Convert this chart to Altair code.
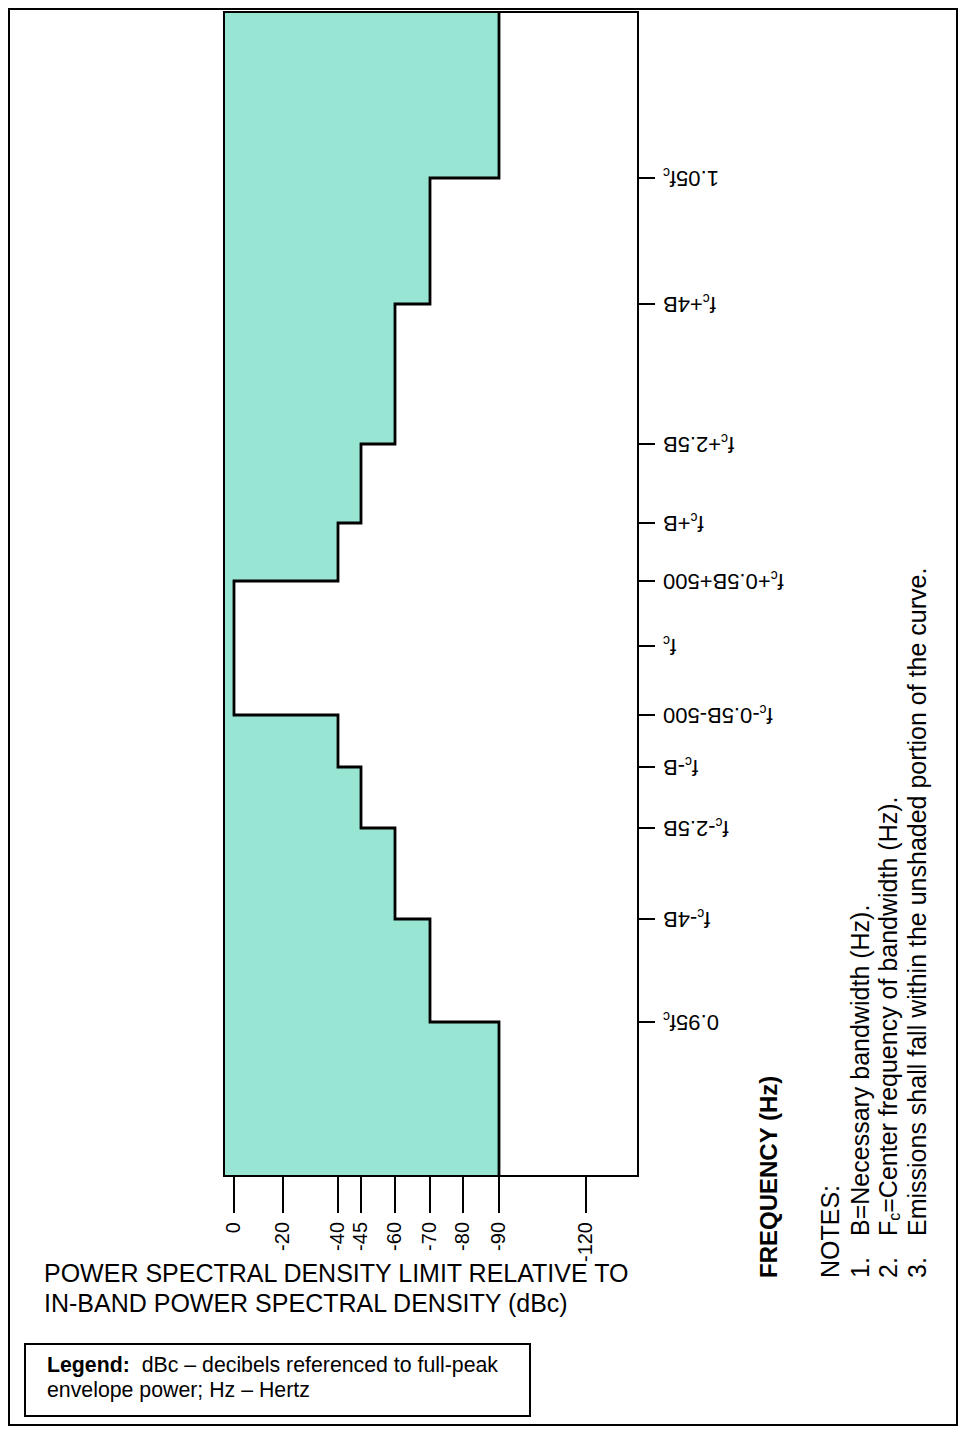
import altair as alt
import pandas as pd

# ---------------- data ----------------
dbc_ticks = [0, -20, -40, -45, -60, -70, -80, -90, -120]
dbc_tick_labels = ["0", "-20", "-40", "-45", "-60", "-70", "-80", "-90", "-120"]
freq_labels = ["1.05f_c", "f_c+4B", "f_c+2.5B", "f_c+B", "f_c+0.5B+500", "f_c",
               "f_c-0.5B-500", "f_c-B", "f_c-2.5B", "f_c-4B", "0.95f_c"]
freq_index = [5, 4, 3, 2, 1, 0, -1, -2, -3, -4, -5]
# mask segments: from / to position on the frequency axis, limit in dBc
seg_from = [6, 5, 4, 3, 2, 1, -1, -2, -3, -4, -5]
seg_to = [5, 4, 3, 2, 1, -1, -2, -3, -4, -5, -6]
seg_dbc = [-90, -70, -60, -45, -40, 0, -40, -45, -60, -70, -90]

x_title_lines = ["POWER SPECTRAL DENSITY LIMIT RELATIVE TO",
                 "IN-BAND POWER SPECTRAL DENSITY (dBc)"]
y_title = "FREQUENCY (Hz)"
notes_head = "NOTES:"
note_nums = ["1.", "2.", "3."]
note1 = "B=Necessary bandwidth (Hz)."
note2_parts = ["F", "c", "=Center frequency of bandwidth (Hz)."]
note3 = "Emissions shall fall within the unshaded portion of the curve."
legend_bold = "Legend:"
legend_line1 = "dBc \u2013 decibels referenced to full-peak"
legend_line2 = "envelope power; Hz \u2013 Hertz"

# ---------------- layout / style ----------------
W, H = 414, 1164
dbc_px = [10, 59, 114, 137, 171, 206, 239, 275, 362]
freq_domain = [6] + freq_index + [-6]
freq_px = [0, 166, 292, 432, 511, 569, 634, 703, 755, 816, 907, 1010, 1164]
FONT = "Liberation Sans"
FILL = "#98e5d4"

# Arial / Liberation Sans advance widths (per 1000 em)
ADV = {str(d): 556 for d in range(10)}
ADV.update({".": 278, "+": 584, "-": 333, "B": 667, "f": 278, "c": 500, "F": 611, " ": 278})
ADV_BOLD = {"L": 611, "e": 556, "g": 611, "n": 611, "d": 611, ":": 333, " ": 278}


def tw(s, size, table=ADV):
    return sum(table[ch] for ch in s) * size / 1000.0


xs = alt.Scale(domain=dbc_ticks, range=dbc_px, nice=False, zero=False)
ys = alt.Scale(domain=freq_domain, range=freq_px, nice=False, zero=False)
one = pd.DataFrame({"a": [0]})

# ---------------- shaded mask ----------------
seg_df = pd.DataFrame({"f0": seg_from, "f1": seg_to, "dbc": seg_dbc})
fill = alt.Chart(seg_df).mark_rect(color=FILL).encode(
    x=alt.X("dbc:Q", scale=xs, axis=None),
    x2=alt.value(0),
    y=alt.Y("f0:Q", scale=ys, axis=None),
    y2="f1:Q",
)

# ---------------- step outline ----------------
rows = []
for k, (a, b, d) in enumerate(zip(seg_from, seg_to, seg_dbc)):
    rows.append({"seq": 2 * k, "f": a, "dbc": d})
    rows.append({"seq": 2 * k + 1, "f": b, "dbc": d})
line_df = pd.DataFrame(rows)
outline = alt.Chart(line_df).mark_line(color="black", strokeWidth=2.8, strokeJoin="miter").encode(
    x=alt.X("dbc:Q", scale=xs, axis=None),
    y=alt.Y("f:Q", scale=ys, axis=None),
    order="seq:Q",
)

frame = alt.Chart(one).mark_rect(fillOpacity=0, stroke="black", strokeWidth=2).encode(
    x=alt.value(0), x2=alt.value(W), y=alt.value(0), y2=alt.value(H))

# ---------------- dBc axis (ticks + labels) ----------------
xt_df = pd.DataFrame({"v": dbc_ticks, "lab": dbc_tick_labels})
x_ticks = alt.Chart(xt_df).mark_rule(color="black", strokeWidth=2).encode(
    x=alt.X("v:Q", scale=xs, axis=None), y=alt.value(H), y2=alt.value(H + 37))
x_labels = alt.Chart(xt_df).mark_text(
    font=FONT, fontSize=20, angle=270, align="right", baseline="middle", color="black").encode(
    x=alt.X("v:Q", scale=xs, axis=None), y=alt.value(H + 46), text="lab:N")

# ---------------- frequency axis (ticks + upside-down labels) ----------------
FS, SUB = 22, 14
LX = 439
lab_rows = []
for lab, idx in zip(freq_labels, freq_index):
    head, tail = lab.split("_c")
    x_c = LX + tw(tail, FS)
    lab_rows.append({"idx": idx, "head": head, "tail": tail, "sub": "c",
                     "x_tail": LX, "x_c": x_c, "x_head": x_c + tw("c", SUB)})
lab_df = pd.DataFrame(lab_rows)

y_ticks = alt.Chart(lab_df).mark_rule(color="black", strokeWidth=2).encode(
    y=alt.Y("idx:Q", scale=ys, axis=None), x=alt.value(W), x2=alt.value(W + 17))


def freq_text(field, xfield, size, dy=0):
    return alt.Chart(lab_df).mark_text(
        font=FONT, fontSize=size, angle=180, align="right", baseline="middle",
        color="black", dy=dy).encode(
        x=alt.X(f"{xfield}:Q", scale=None),
        y=alt.Y("idx:Q", scale=ys, axis=None),
        text=f"{field}:N")


f_tail = freq_text("tail", "x_tail", FS)
f_sub = freq_text("sub", "x_c", SUB, dy=6)
f_head = freq_text("head", "x_head", FS)


# ---------------- annotation text ----------------
def note(text, x, y, size, angle=0, align="left", baseline="alphabetic", weight="normal", dy=0):
    return alt.Chart(one).mark_text(
        text=text, font=FONT, fontSize=size, angle=angle, align=align, baseline=baseline,
        fontWeight=weight, color="black", dy=dy).encode(x=alt.value(x), y=alt.value(y))


NS = 25
texts = [
    note(x_title_lines[0], -180, 1270, 25),
    note(x_title_lines[1], -180, 1300, 25),
    note(y_title, 546, 1266, 24, angle=270, baseline="middle", weight="bold"),
    note(notes_head, 607, 1266, NS, angle=270, baseline="middle"),
]
note_x = [637, 665, 694]
for nx, num in zip(note_x, note_nums):
    texts.append(note(num, nx, 1266, NS, angle=270, baseline="middle"))
texts.append(note(note1, note_x[0], 1224, NS, angle=270, baseline="middle"))
y_c = 1224 - tw(note2_parts[0], NS)
texts.append(note(note2_parts[0], note_x[1], 1224, NS, angle=270, baseline="middle"))
texts.append(note(note2_parts[1], note_x[1], y_c, 16, angle=270, baseline="middle", dy=6))
texts.append(note(note2_parts[2], note_x[1], y_c - tw("c", 16), NS, angle=270, baseline="middle"))
texts.append(note(note3, note_x[2], 1224, NS, angle=270, baseline="middle"))

# legend box
legend_box = alt.Chart(one).mark_rect(fill="white", stroke="black", strokeWidth=2).encode(
    x=alt.value(-199), x2=alt.value(306), y=alt.value(1332), y2=alt.value(1404))
lx0 = -177
LS = 21.3
texts.append(note(legend_bold, lx0, 1360, LS, weight="bold"))
texts.append(note(legend_line1, lx0 + tw(legend_bold, LS, ADV_BOLD) + tw("  ", LS), 1360, LS))
texts.append(note(legend_line2, lx0, 1385, LS))

# outer frame
outer = alt.Chart(one).mark_rect(fillOpacity=0, stroke="black", strokeWidth=2).encode(
    x=alt.value(-215), x2=alt.value(733), y=alt.value(-3), y2=alt.value(1413))

chart = alt.layer(
    outer, legend_box, fill, outline, frame, x_ticks, x_labels, y_ticks,
    f_tail, f_sub, f_head, *texts
).properties(
    width=W, height=H,
    autosize=alt.AutoSizeParams(type="none"),
    padding={"left": 216, "top": 4, "right": 320, "bottom": 250},
    background="white",
).configure_view(strokeWidth=0)

chart.save("out.html", embed_options={"renderer": "svg", "actions": False})
